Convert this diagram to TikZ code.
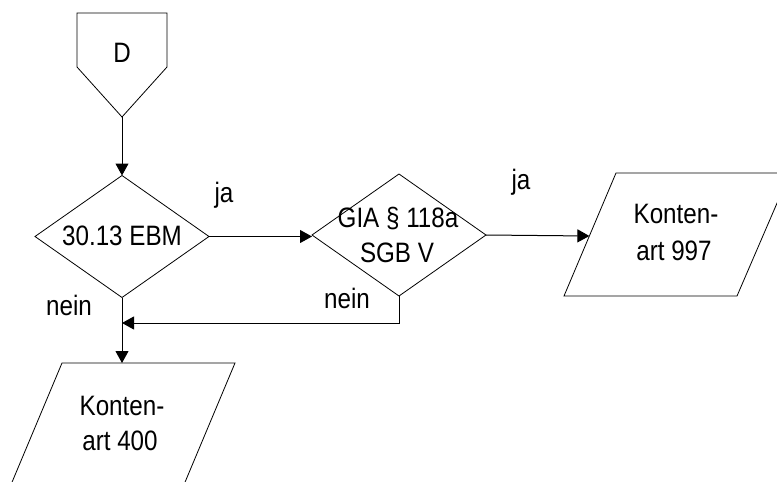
\documentclass[tikz,border=0pt]{standalone}
\usepackage{fontspec}
\setmainfont{Liberation Sans}
\usetikzlibrary{arrows.meta,shapes.geometric}
\newcommand\talltext[1]{\scalebox{1}[1.16]{#1}}
\begin{document}
\begin{tikzpicture}[x=1pt,y=-1pt,
  every node/.style={font=\fontsize{24.2}{30}\selectfont, inner sep=0pt, outer sep=0pt},
  txt/.style={anchor=base},
  dia/.style={draw, diamond, minimum width=174pt, minimum height=122pt, line width=0.8pt},
  shp/.style={draw, line width=0.8pt, line join=miter},
  conn/.style={line width=1pt, -{Triangle[length=12pt,width=13pt]}},
  plain/.style={line width=1pt}]
\useasboundingbox (0,0) rectangle (777,482);
\clip (0,0) rectangle (777,482);
\fill[white] (0,0) rectangle (777,482);

% off-page connector D
\coordinate (dtip) at (122,117);
\draw[shp] (77,13) -- (167,13) -- (167,67) -- (dtip) -- (77,67) -- cycle;
\node[txt] (dlab) at (122,62) {\talltext{D}};

% decisions
\node[dia] (d1) at (122,236.5) {};
\node[txt] (d1lab) at (122,245) {\talltext{30.13 EBM}};
\node[dia] (d2) at (399,235) {};
\node[txt] (d2lab1) at (398,227) {\talltext{GIA § 118a}};
\node[txt] (d2lab2) at (397,262) {\talltext{SGB V}};

% outputs
\coordinate (k997w) at (589.4,236);
\draw[shp] (616,173) -- (790,173) -- (737,296) -- (564,296) -- cycle;
\node[txt] (k997lab1) at (676,223) {\talltext{Konten-}};
\node[txt] (k997lab2) at (674,260) {\talltext{art 997}};

\coordinate (k400n) at (122,363);
\draw[shp] (62,363) -- (235,363) -- (183,487) -- (10,487) -- cycle;
\node[txt] (k400lab1) at (122,415) {\talltext{Konten-}};
\node[txt] (k400lab2) at (120,450) {\talltext{art 400}};

% connectors
\draw[conn] (dtip) -- (d1.north);
\draw[conn] (d1.east) -- (d1.east -| d2.west);
\draw[conn] (d2.east) -- (k997w);
\draw[conn] (d1.south) -- (k400n);
\coordinate (loop) at (399,323);
\draw[conn] (d2.south) -- (loop) -- (loop -| d1.south);

% labels
\node[txt] (ja1) at (224,202) {\talltext{ja}};
\node[txt] (ja2) at (521,189) {\talltext{ja}};
\node[txt] (nein1) at (69,315) {\talltext{nein}};
\node[txt] (nein2) at (347,308) {\talltext{nein}};
\end{tikzpicture}
\end{document}
